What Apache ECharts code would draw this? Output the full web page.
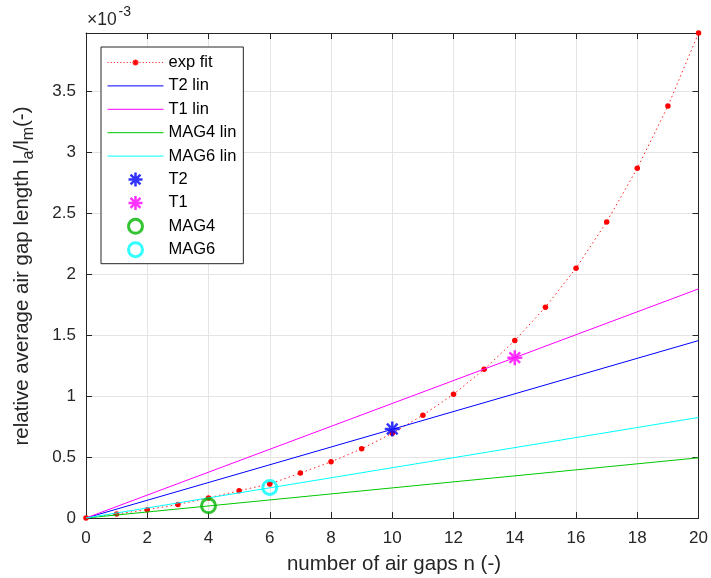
<!DOCTYPE html>
<html><head><meta charset="utf-8">
<script src="https://cdn.jsdelivr.net/npm/echarts@6/dist/echarts.min.js"></script>
<style>html,body{margin:0;padding:0;background:#fff}#c{width:711px;height:578px}</style>
</head><body><div id="c"></div>
<script>
// values in units of 1e-3
const nValues = [0,1,2,3,4,5,6,7,8,9,10,11,12,13,14,15,16,17,18,19,20];
const expFit = [0,0.033,0.068,0.111,0.165,0.224,0.279,0.369,0.461,0.568,0.695,0.844,1.016,1.22,1.456,1.73,2.05,2.43,2.87,3.38,3.98];
const linX = [0, 20];
const t2Lin = [0, 1.456];
const t1Lin = [0, 1.88];
const mag4Lin = [0, 0.494];
const mag6Lin = [0, 0.825];
const t2Point = [10, 0.73];
const t1Point = [14, 1.316];
const mag4Point = [4, 0.10];
const mag6Point = [6, 0.251];
const xTicks = [0,2,4,6,8,10,12,14,16,18,20];
const yTicks = [0,0.5,1,1.5,2,2.5,3,3.5];

const pairs = (xs, ys) => xs.map((x, i) => [x, ys[i]]);
const star = 'path://M5,0L5,10M0,5L10,5M1.46,1.46L8.54,8.54M1.46,8.54L8.54,1.46';
const font = 'Liberation Sans, Arial, Helvetica, sans-serif';
const axisCol = '#262626';

// legend icon shapes (56 x 14 box)
let dotted = 'path://M0,0M56,14';
for (let x = 0; x < 56; x += 3.2) dotted += 'M' + x.toFixed(1) + ',7L' + (x + 1.2).toFixed(1) + ',7';
dotted += 'M30.6,7A2.6,2.6,0,1,1,25.4,7A2.6,2.6,0,1,1,30.6,7Z';
const solid = 'path://M0,0M56,14M0,7L56,7';

const chart = echarts.init(document.getElementById('c'));
const yTickSet = new Set(yTicks.map(String));
const xTickSet = new Set(xTicks.map(String));
const baseAxis = {
  axisLine: {show: true, onZero: false, lineStyle: {color: axisCol, width: 1}},
  axisTick: {show: true, inside: true, length: 6, lineStyle: {color: axisCol}},
};
const lineItem = (name, col) => ({name, icon: solid, itemStyle: {color: col, borderColor: col, borderWidth: 1}});
chart.setOption({
  animation: false,
  textStyle: {fontFamily: font},
  grid: {left: 86, right: 9, top: 33, bottom: 60, containLabel: false},
  xAxis: [
    Object.assign({}, baseAxis, {type: 'value', min: 0, max: 20, interval: 2, position: 'bottom',
      axisLabel: {color: axisCol, fontSize: 17, margin: 12, fontFamily: font,
        formatter: v => xTickSet.has(String(v)) ? String(v) : ''},
      splitLine: {show: true, lineStyle: {color: '#e4e4e4', width: 1}}}),
    Object.assign({}, baseAxis, {type: 'value', min: 0, max: 20, interval: 2, position: 'top',
      axisLabel: {show: false}, splitLine: {show: false}})
  ],
  yAxis: [
    Object.assign({}, baseAxis, {type: 'value', min: 0, max: 3.98, interval: 0.5, position: 'left',
      axisLabel: {color: axisCol, fontSize: 17, margin: 10, fontFamily: font, showMaxLabel: false,
        formatter: v => yTickSet.has(String(v)) ? String(v) : ''},
      splitLine: {show: true, lineStyle: {color: '#e4e4e4', width: 1}}}),
    Object.assign({}, baseAxis, {type: 'value', min: 0, max: 3.98, interval: 0.5, position: 'right',
      axisLabel: {show: false}, splitLine: {show: false}})
  ],
  legend: {
    orient: 'vertical', left: 101, top: 47,
    itemWidth: 56, itemHeight: 14, itemGap: 6.4,
    padding: [7, 7, 5.5, 6],
    borderColor: axisCol, borderWidth: 1, backgroundColor: '#fff',
    textStyle: {fontSize: 16.5, color: '#000', fontFamily: font},
    data: [
      {name: 'exp fit', icon: dotted, itemStyle: {color: '#ff0000', borderColor: '#ff3030', borderWidth: 1}},
      lineItem('T2 lin', '#0000ff'),
      lineItem('T1 lin', '#ff00ff'),
      lineItem('MAG4 lin', '#00c800'),
      lineItem('MAG6 lin', '#00ffff'),
      {name: 'T2', itemStyle: {color: '#0000ff', borderColor: '#0000ff', borderWidth: 2.5}},
      {name: 'T1', itemStyle: {color: '#ff00ff', borderColor: '#ff00ff', borderWidth: 2.5}},
      {name: 'MAG4', itemStyle: {color: 'rgba(255,255,255,0)', borderColor: '#00b400', borderWidth: 3}},
      {name: 'MAG6', itemStyle: {color: 'rgba(255,255,255,0)', borderColor: '#00ffff', borderWidth: 3}}
    ]
  },
  graphic: [
    {type: 'text', x: 87, y: 20.5, style: {
      text: '×10', fill: axisCol, font: '17.5px ' + font, align: 'left', verticalAlign: 'middle'}},
    {type: 'text', x: 118.5, y: 12.5, style: {
      text: '-3', fill: axisCol, font: '14px ' + font, align: 'left', verticalAlign: 'middle'}},
    {type: 'text', x: 22, y: 276, rotation: Math.PI / 2, style: {
      text: 'relative average air gap length l{sub|a}/l{sub|m}(-)',
      fill: axisCol, font: '20.5px ' + font, align: 'center', verticalAlign: 'middle',
      rich: {sub: {fontSize: 16, fill: axisCol, fontFamily: font, padding: [14,0,0,0]}}}},
    {type: 'text', x: 394, y: 564, style: {
      text: 'number of air gaps n (-)', fill: axisCol, font: '20.5px ' + font,
      align: 'center', verticalAlign: 'middle'}}
  ],
  series: [
    {name: 'exp fit', type: 'line', data: pairs(nValues, expFit), symbol: 'circle', symbolSize: 5.5, showSymbol: true,
      itemStyle: {color: '#ff0000'}, lineStyle: {color: '#ff2020', width: 1, type: [1.5, 3]}, z: 2},
    {name: 'T2 lin', type: 'line', data: pairs(linX, t2Lin), symbol: 'none',
      itemStyle: {color: '#0000ff'}, lineStyle: {color: '#0000ff', width: 1}, z: 3},
    {name: 'T1 lin', type: 'line', data: pairs(linX, t1Lin), symbol: 'none',
      itemStyle: {color: '#ff00ff'}, lineStyle: {color: '#ff00ff', width: 1}, z: 3},
    {name: 'MAG4 lin', type: 'line', data: pairs(linX, mag4Lin), symbol: 'none',
      itemStyle: {color: '#00c800'}, lineStyle: {color: '#00c800', width: 1}, z: 3},
    {name: 'MAG6 lin', type: 'line', data: pairs(linX, mag6Lin), symbol: 'none',
      itemStyle: {color: '#00ffff'}, lineStyle: {color: '#00ffff', width: 1}, z: 3},
    {name: 'T2', type: 'scatter', data: [t2Point], symbol: star, symbolSize: 15,
      itemStyle: {color: '#0000ff', borderColor: '#0000ff', borderWidth: 2.5}, z: 5},
    {name: 'T1', type: 'scatter', data: [t1Point], symbol: star, symbolSize: 15,
      itemStyle: {color: '#ff00ff', borderColor: '#ff00ff', borderWidth: 2.5}, z: 5},
    {name: 'MAG4', type: 'scatter', data: [mag4Point], symbol: 'circle', symbolSize: 14,
      itemStyle: {color: 'rgba(255,255,255,0)', borderColor: '#00b400', borderWidth: 3}, z: 5},
    {name: 'MAG6', type: 'scatter', data: [mag6Point], symbol: 'circle', symbolSize: 14,
      itemStyle: {color: 'rgba(255,255,255,0)', borderColor: '#00ffff', borderWidth: 3}, z: 5}
  ]
});
</script></body></html>
